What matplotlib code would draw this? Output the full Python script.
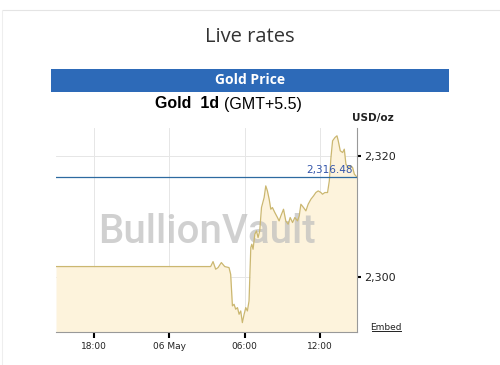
import matplotlib
matplotlib.use("Agg")
import matplotlib.pyplot as plt

# hours since 00:00 on 05 May (24 = 06 May 00:00)
hours = [15.0, 27.29, 27.48, 27.69, 27.88, 28.14, 28.41, 28.75, 28.88, 29.02, 29.15, 29.28,
         29.42, 29.55, 29.68, 29.81, 29.95, 30.08, 30.21, 30.34, 30.48, 30.56, 30.66, 30.80,
         30.93, 31.06, 31.19, 31.33, 31.54, 31.67, 31.80, 31.94, 32.07, 32.20, 32.39, 32.60,
         32.73, 32.87, 33.08, 33.26, 33.45, 33.61, 33.80, 33.98, 34.19, 34.33, 34.46, 34.67,
         34.86, 35.04, 35.26, 35.47, 35.65, 35.84, 36.05, 36.18, 36.37, 36.58, 36.72, 36.85,
         36.98, 37.17, 37.33, 37.43, 37.59, 37.78, 37.91, 38.04, 38.23, 38.44, 38.57, 38.71,
         38.92]
prices = [2301.71, 2301.71, 2302.53, 2301.27, 2301.54, 2302.37, 2301.71, 2301.54, 2300.44,
          2295.21, 2295.48, 2294.66, 2294.93, 2293.83, 2294.38, 2292.45, 2293.83, 2294.93,
          2294.38, 2296.03, 2304.85, 2305.40, 2304.57, 2307.05, 2307.60, 2306.50, 2307.60,
          2311.46, 2313.11, 2315.04, 2314.21, 2312.84, 2311.18, 2311.46, 2310.63, 2309.81,
          2309.26, 2310.08, 2311.18, 2309.26, 2308.71, 2309.81, 2308.98, 2309.81, 2309.26,
          2310.08, 2312.01, 2311.46, 2310.91, 2312.01, 2312.84, 2313.39, 2313.94, 2314.21,
          2313.94, 2313.66, 2313.94, 2313.94, 2315.87, 2319.72, 2322.48, 2323.03, 2323.31,
          2322.48, 2320.83, 2320.55, 2321.10, 2318.62, 2318.07, 2318.35, 2318.07, 2316.97,
          2316.48]
last_price = 2316.48
tick_hours = [18, 24, 30, 36]
tick_labels = ["18:00", "06 May", "06:00", "12:00"]
price_ticks = [2300, 2320]
price_labels = ["2,300", "2,320"]

W, H = 500, 365
fig = plt.figure(figsize=(W / 100, H / 100), dpi=100)
fig.patch.set_facecolor("white")

# faint page border
fig.lines.append(plt.Line2D([2 / W, 1], [1 - 10 / H, 1 - 10 / H], transform=fig.transFigure,
                            color="#e4e4e4", lw=0.8, solid_capstyle="butt"))
fig.lines.append(plt.Line2D([2 / W, 2 / W], [0, 1 - 10 / H], transform=fig.transFigure,
                            color="#eeeeee", lw=0.8, solid_capstyle="butt"))

# header
fig.text(250 / W, 1 - 37 / H, "Live rates", ha="center", va="center", fontsize=14.5,
         color="#333333", family="Open Sans")
fig.patches.append(plt.Rectangle((51 / W, 1 - 92 / H), 398 / W, 23 / H,
                                 transform=fig.transFigure, facecolor="#2d6ab8",
                                 edgecolor="none"))
fig.text(250 / W, 1 - 80.5 / H, "Gold Price", ha="center", va="center", fontsize=10,
         color="white", weight="bold", family="Open Sans")
fig.text(224 / W, 1 - 104 / H, "Gold  1d ", ha="right", va="center", fontsize=11.5,
         color="black", weight="bold", family="Liberation Sans")
fig.text(224 / W, 1 - 104 / H, "(GMT+5.5)", ha="left", va="center", fontsize=11.5,
         color="black", family="Liberation Sans")
fig.text(373 / W, 1 - 118 / H, "USD/oz", ha="center", va="center", fontsize=7.5,
         color="#222222", weight="bold", family="DejaVu Sans")
fig.text(386 / W, 1 - 327 / H, "Embed", ha="center", va="center", fontsize=6.5,
         color="#222222", family="DejaVu Sans")
fig.lines.append(plt.Line2D([372 / W, 401 / W], [1 - 331 / H, 1 - 331 / H],
                            transform=fig.transFigure, color="#222222", lw=0.7))

ax = fig.add_axes([56 / W, 1 - 332 / H, 301 / W, 204 / H])
ax.set_xlim(15.0, 38.92)
ax.set_ylim(2290.9, 2324.6)

ax.fill_between(hours, prices, 2290.9, color="#fdf3dc", lw=0, zorder=1)
ax.plot(hours, prices, color="#cbb770", lw=0.9, zorder=3)
ax.axhline(last_price, color="#2d6aa0", lw=0.9, zorder=4)
ax.text(38.55, last_price + 0.3, "2,316.48", ha="right", va="bottom", fontsize=7.5,
        color="#3355aa", zorder=5)

ax.text(0.50, 0.49, "BullionVault", transform=ax.transAxes, ha="center", va="center",
        fontsize=29, color="#bdbdbd", alpha=0.7, family="Roboto", weight="medium", zorder=2)

ax.set_xticks(tick_hours)
ax.set_xticklabels(tick_labels, fontsize=6.5, color="#222222")
ax.yaxis.tick_right()
ax.set_yticks(price_ticks)
ax.set_yticklabels(price_labels, fontsize=8, color="#222222")
ax.tick_params(axis="x", direction="out", length=4, width=1.5, color="black", pad=3)
ax.tick_params(axis="y", direction="out", length=3, width=1.5, color="black", pad=2)
ax.grid(True, color="#e6e6e6", lw=0.7, zorder=0)
ax.set_axisbelow(True)
for side in ["left", "top"]:
    ax.spines[side].set_visible(False)
for side in ["right", "bottom"]:
    ax.spines[side].set_color("#999999")
    ax.spines[side].set_linewidth(0.8)

fig.savefig("out.png", dpi=100)
